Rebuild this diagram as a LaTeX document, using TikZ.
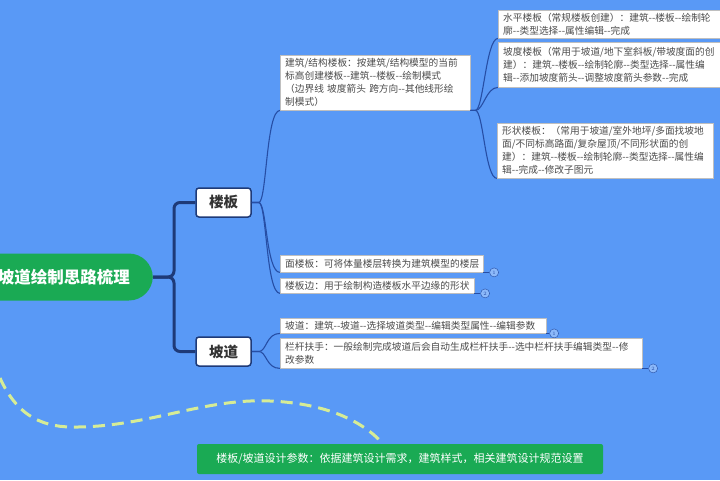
\documentclass[tikz,border=0pt]{standalone}
\usepackage{fontspec}
\newfontfamily\cjk{Noto Sans CJK SC}
\usetikzlibrary{positioning}
\definecolor{bgblue}{RGB}{89,153,246}
\definecolor{rootgreen}{RGB}{26,170,84}
\definecolor{trunkblue}{RGB}{30,58,120}
\definecolor{twigblue}{RGB}{38,78,165}
\definecolor{dashgreen}{RGB}{214,236,150}
\definecolor{markfill}{RGB}{140,185,250}

\begin{document}
\begin{tikzpicture}[x=1pt,y=-1pt,
	root/.style={fill=rootgreen, text=white, rounded corners=24pt, font=\cjk\bfseries\fontsize{16.5}{18}\selectfont, minimum height=47pt, inner xsep=23pt},
	branch/.style={draw=trunkblue, line width=1.5pt, fill=white, rounded corners=3pt, font=\cjk\bfseries\fontsize{14.5}{16}\selectfont, text=black!80, minimum width=55pt, minimum height=29pt},
	leaf/.style={draw=black!25, fill=white, anchor=north west, align=left, inner xsep=5pt, inner ysep=1pt, text=black!70, font=\cjk\fontsize{9.7}{13}\selectfont},
	tag/.style={circle, draw=twigblue, fill=markfill, inner sep=0pt, minimum size=9pt, font=\fontsize{5}{5}\selectfont, text=twigblue},
	trunk/.style={draw=trunkblue, line width=3pt, rounded corners=6pt},
	twig/.style={draw=twigblue, line width=1.1pt},
	relation/.style={draw=dashgreen, line width=3pt, dash pattern=on 12pt off 7pt}]

		\useasboundingbox (0,0) rectangle (720,480);
		\fill[bgblue] (0,0) rectangle (720,480);
		\clip (0,0) rectangle (720,480);

		\node[root, anchor=east] (root) at (153,277) {坡道绘制思路梳理};
		\node[branch] (lb) at (223.5,202.5) {楼板};
		\node[branch] (pd) at (223.5,351.5) {坡道};

		\draw[trunk] (root.east) -- ++(21,0) |- (lb.west);
		\draw[trunk] (root.east) -- ++(21,0) |- (pd.west);

		% 楼板
		\node[leaf, text width=180pt, minimum height=55pt] (jg) at (280,55) {建筑/结构楼板：按建筑/结构模型的当前\\标高创建楼板--建筑--楼板--绘制模式\\（边界线 坡度箭头 跨方向--其他线形绘\\制模式）};
		\node[leaf, text width=232pt, minimum height=28pt] (sp) at (498,10) {水平楼板（常规楼板创建）：建筑--楼板--绘制轮\\廓--类型选择--属性编辑--完成};
		\node[leaf, text width=232pt, minimum height=45pt] (pdu) at (498,42) {坡度楼板（常用于坡道/地下室斜板/带坡度面的创\\建）：建筑--楼板--绘制轮廓--类型选择--属性编\\辑--添加坡度箭头--调整坡度箭头参数--完成};
		\node[leaf, text width=206pt, minimum height=55pt] (xz) at (497,123) {形状楼板：（常用于坡道/室外地坪/多面找坡地\\面/不同标高路面/复杂屋顶/不同形状面的创\\建）：建筑--楼板--绘制轮廓--类型选择--属性编\\辑--完成--修改子图元};
		\node[leaf, text width=193pt, minimum height=17pt] (mlb) at (280,255) {面楼板：可将体量楼层转换为建筑模型的楼层};
		\node[leaf, text width=184pt, minimum height=15pt] (lbb) at (280,278) {楼板边：用于绘制构造楼板水平边缘的形状};

		\draw[twig] (lb.east) -- ++(7,0) .. controls +(8,0) and +(-14,0) .. (jg.south west);
		\draw[twig] (lb.east) -- ++(7,0) .. controls +(8,0) and +(-14,0) .. (mlb.south west);
		\draw[twig] (lb.east) -- ++(7,0) .. controls +(8,0) and +(-14,0) .. (lbb.south west);

		\draw[twig] (jg.south east) -- ++(5,0) .. controls +(8,0) and +(-12,0) .. (sp.south west);
		\draw[twig] (jg.south east) -- ++(5,0) .. controls +(8,0) and +(-12,0) .. (pdu.south west);
		\draw[twig] (jg.south east) -- ++(5,0) .. controls +(8,0) and +(-12,0) .. (xz.south west);

		\node[tag, right=6pt of mlb.south east] (m1) {1};
		\node[tag, right=6pt of lbb.south east] (m2) {2};
		\draw[twig] (mlb.south east) -- (m1);
		\draw[twig] (lbb.south east) -- (m2);

		% 坡道
		\node[leaf, text width=256pt, minimum height=15pt] (pdl) at (280,318) {坡道：建筑--坡道--选择坡道类型--编辑类型属性--编辑参数};
		\node[leaf, text width=352pt, minimum height=30pt] (lg) at (280,338) {栏杆扶手：一般绘制完成坡道后会自动生成栏杆扶手--选中栏杆扶手编辑类型--修\\改参数};

		\draw[twig] (pd.east) -- ++(7,0) .. controls +(8,0) and +(-14,0) .. (pdl.south west);
		\draw[twig] (pd.east) -- ++(7,0) .. controls +(8,0) and +(-14,0) .. (lg.south west);

		\node[tag, right=3pt of pdl.south east] (m3) {1};
		\node[tag, right=6pt of lg.south east] (m4) {2};
		\draw[twig] (pdl.south east) -- (m3);
		\draw[twig] (lg.south east) -- (m4);

		% 设计参数
		\node[fill=rootgreen, rounded corners=2pt, text=white, font=\cjk\fontsize{11}{13}\selectfont, minimum width=406pt, minimum height=30pt] (param) at (400,459) {楼板/坡道设计参数：依据建筑设计需求，建筑样式，相关建筑设计规范设置};

		\coordinate (rs) at (0,378);
		\coordinate (re) at ([xshift=-17pt]param.north);
		\draw[relation] (rs) .. controls (18,418) and (45,428) .. (78,427) .. controls (150,426) and (205,398) .. (270,401) .. controls (320,403) and (360,418) .. (re);
	\end{tikzpicture}
\end{document}
